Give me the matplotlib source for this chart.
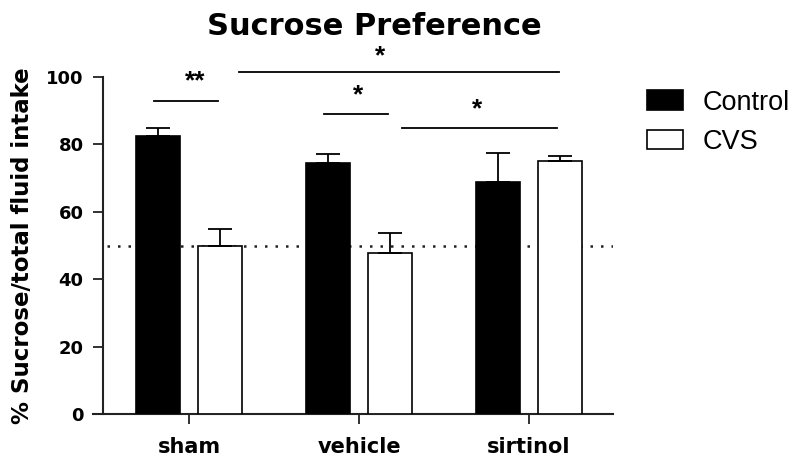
import matplotlib
matplotlib.use("Agg")
import matplotlib.pyplot as plt
import numpy as np

groups = ["sham", "vehicle", "sirtinol"]
series = ["Control", "CVS"]
control_mean = [82.5, 74.4, 68.8]
control_err = [2.3, 2.7, 8.7]
cvs_mean = [49.9, 47.9, 75.1]
cvs_err = [5.0, 5.9, 1.5]
yticks = [0, 20, 40, 60, 80, 100]
chance_level = 50
# significance brackets
sig_x0 = [-0.206, 0.294, 0.794, 1.253]
sig_x1 = [0.171, 2.176, 1.171, 2.165]
sig_y = [92.9, 101.5, 89.0, 84.9]
sig_labels = ["**", "*", "*", "*"]
sig_label_x = [0.035, 1.124, 0.994, 1.694]
sig_label_y = [99.7, 107.1, 95.5, 91.4]

fig = plt.figure(figsize=(8, 4.68), dpi=100)
ax = fig.add_axes([93/800, 54/468, 520/800, 337/468])

x = np.arange(len(groups))
off = 0.184
w = 0.259
ax.bar(x - off, control_mean, width=w, color="black", edgecolor="black",
       linewidth=1.2, label=series[0], zorder=3)
ax.bar(x + off, cvs_mean, width=w, color="white", edgecolor="black",
       linewidth=1.2, label=series[1], zorder=3)
ax.errorbar(x - off, control_mean, yerr=[np.zeros(3), control_err], fmt="none",
            ecolor="black", elinewidth=1.3, capsize=8.6, capthick=1.3, zorder=4)
ax.errorbar(x + off, cvs_mean, yerr=[np.zeros(3), cvs_err], fmt="none",
            ecolor="black", elinewidth=1.3, capsize=8.6, capthick=1.3, zorder=4)

ax.plot([-0.48, 2.494], [chance_level, chance_level], color="#222222",
        linewidth=1.8, linestyle=(0, (1, 3.2)), zorder=2)

for x0, x1, yy, lab, lx, ly in zip(sig_x0, sig_x1, sig_y, sig_labels, sig_label_x, sig_label_y):
    ax.plot([x0, x1], [yy, yy], color="black", linewidth=1.3, clip_on=False)
    ax.text(lx, ly - 1.0, lab, ha="center", va="center", fontsize=19,
            fontweight="bold", family="Liberation Sans", clip_on=False)

ax.set_xlim(-0.565, 2.494)
ax.set_ylim(0, 100)
ax.spines["top"].set_visible(False)
ax.spines["right"].set_visible(False)
ax.spines["left"].set_position(("data", -0.506))
ax.spines["left"].set_bounds(0, 100)
ax.spines["left"].set_linewidth(1.5)
ax.spines["bottom"].set_linewidth(1.5)
ax.spines["left"].set_color("#222222")
ax.spines["bottom"].set_color("#222222")

ax.set_yticks(yticks)
ax.set_yticklabels([str(t) for t in yticks], fontsize=13, fontweight="bold")
ax.set_xticks(x)
ax.set_xticklabels(groups, fontsize=15, fontweight="bold")
ax.tick_params(axis="y", length=7.5, width=1.3, pad=6.5, color="#222222")
ax.tick_params(axis="x", length=7.5, width=1.3, pad=9, color="#222222")

fig.text(374/800, 1 - 35/468, "Sucrose Preference", ha="center", va="baseline",
         fontsize=22, fontweight="bold")
fig.text(23/800, 1 - 246/468, "% Sucrose/total fluid intake", ha="center",
         va="center", rotation=90, fontsize=16.5, fontweight="bold")

leg = ax.legend(loc="upper left", bbox_to_anchor=(647/800, 1 - 89.5/468),
                bbox_transform=fig.transFigure, frameon=False,
                prop={"family": "Liberation Sans", "size": 19.5},
                handlelength=1.33, handleheight=0.74, handletextpad=0.74,
                labelspacing=0.5, borderpad=0, borderaxespad=0)

fig.savefig("out.png", dpi=100)
